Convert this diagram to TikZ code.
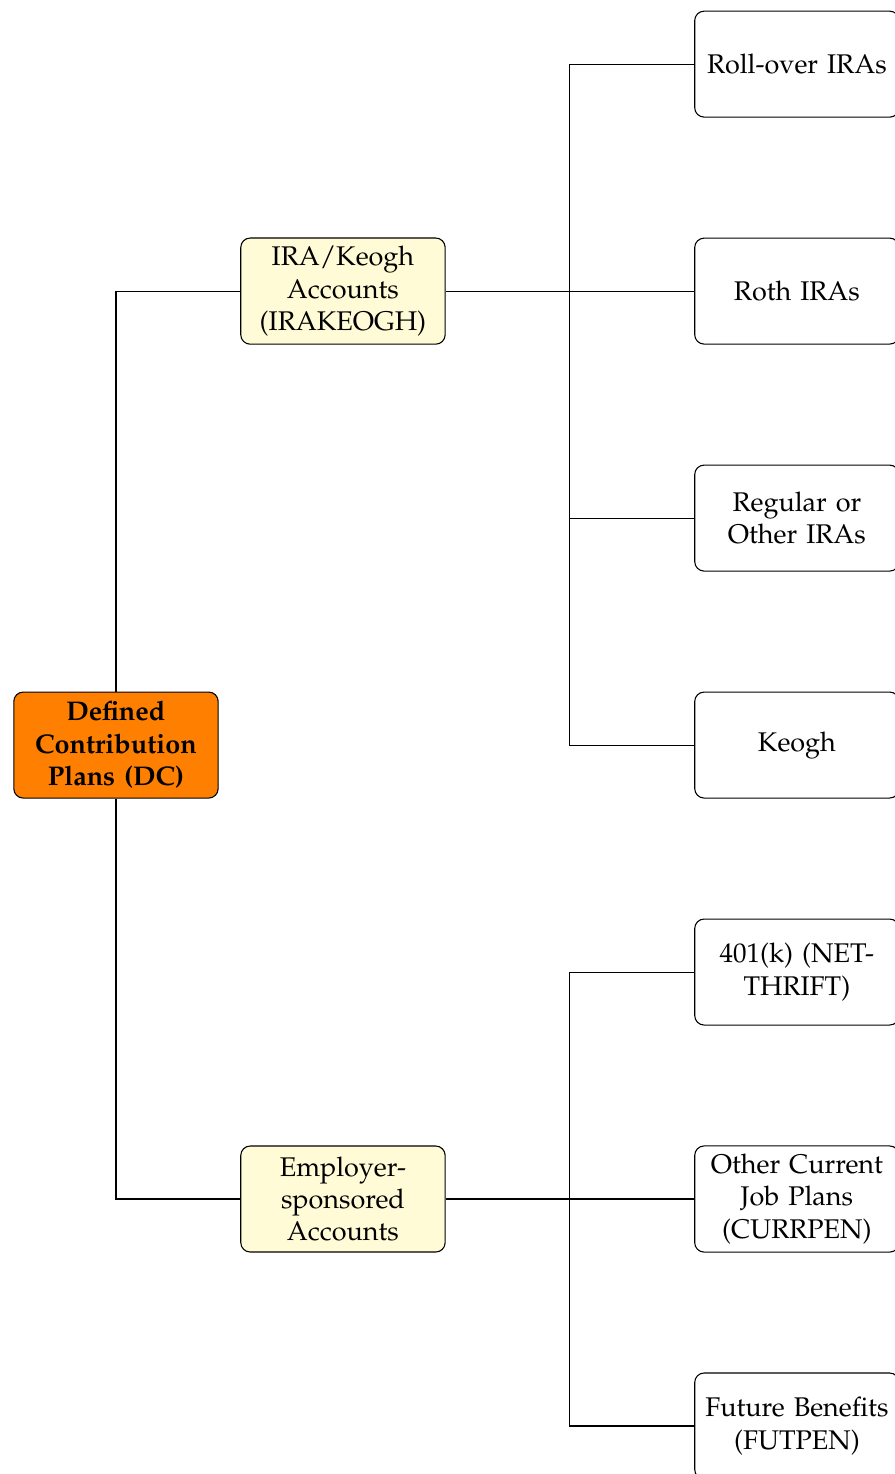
\documentclass[tikz,border=0pt]{standalone}
\usepackage[T1]{fontenc}
\usepackage{mathpazo}
\usepackage{tikz}
\usetikzlibrary{positioning}

\definecolor{dcorange}{RGB}{255,128,0}
\definecolor{accfill}{RGB}{255,251,214}

\begin{document}
\begin{tikzpicture}[-,node distance=2.955cm, on grid, thin,
    box/.style={draw, rounded corners=3.5pt, text width=2.45cm, inner sep=3pt,
                minimum height=1.38cm, align=center},
    rootbox/.style={box, fill=dcorange, font=\bfseries},
    accbox/.style={box, fill=accfill},
    planbox/.style={box}]
  \useasboundingbox (-1.51,9.70) rectangle (10.13,-9.49);
  \node (DC) [rootbox] {Defined Contribution Plans (DC)};
  \node (KEOGH) [planbox, right=8.865cm of DC] {Keogh};
  \node (REG)   [planbox, above=of KEOGH]      {Regular or Other IRAs};
  \node (ROTH)  [planbox, above=of REG]        {Roth IRAs};
  \node (ROLL)  [planbox, above=of ROTH]       {Roll-over IRAs};
  \node (K401)  [planbox, below=of KEOGH]      {401(k) (NET-THRIFT)};
  \node (CURR)  [planbox, below=of K401]       {Other Current Job Plans (CURRPEN)};
  \node (FUT)   [planbox, below=of CURR]       {Future Benefits (FUTPEN)};
  \node (IRA) [accbox, left=5.91cm of ROTH] {IRA/Keogh Accounts (IRAKEOGH)};
  \node (EMP) [accbox, left=5.91cm of CURR] {Employer-sponsored Accounts};
  \coordinate [right=of IRA] (forkI);
  \coordinate [right=of EMP] (forkE);
  \draw (DC) |- (IRA);
  \draw (DC) |- (EMP);
  \draw (IRA) -- (forkI) |- (ROLL);
  \draw (forkI) -- (ROTH);
  \draw (forkI) |- (REG);
  \draw (forkI) |- (KEOGH);
  \draw (EMP) -- (forkE) |- (K401);
  \draw (forkE) -- (CURR);
  \draw (forkE) |- (FUT);
\end{tikzpicture}
\end{document}
